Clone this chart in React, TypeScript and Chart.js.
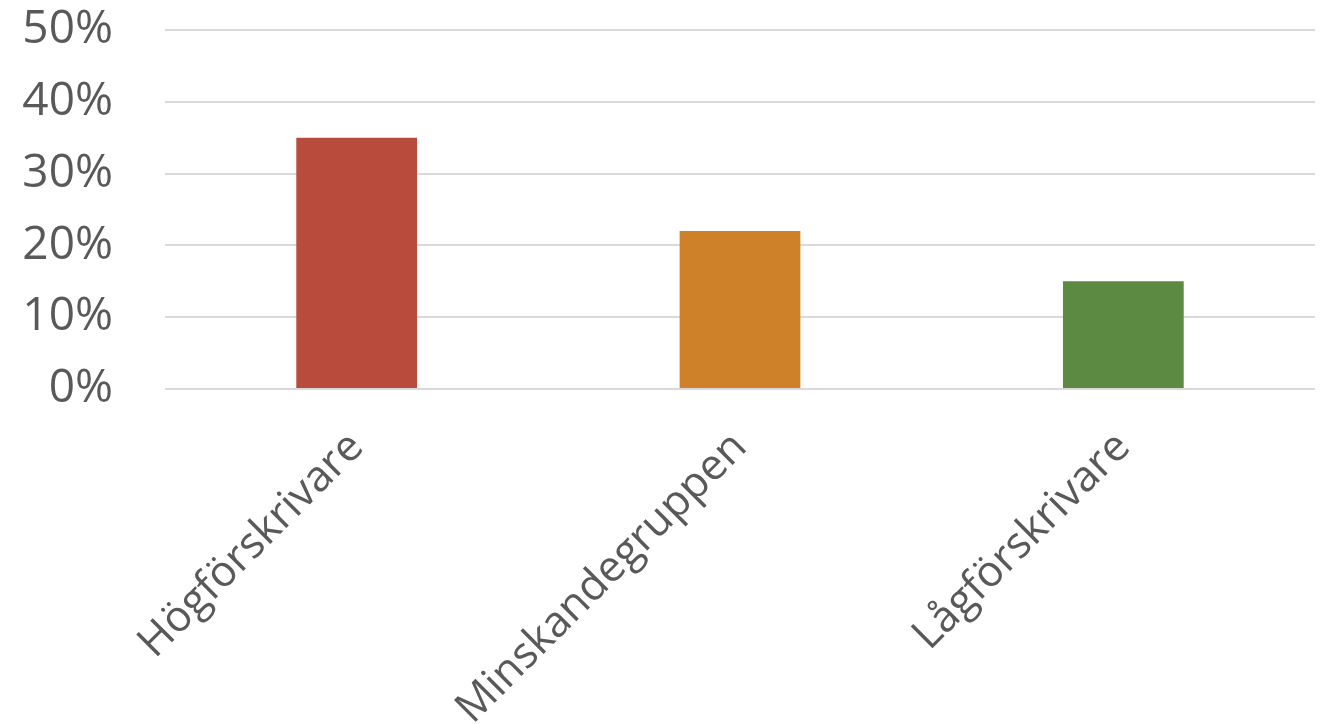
import React, { useEffect, useRef } from "react";
import { Chart, registerables } from "chart.js";

Chart.register(...registerables);

const categories = ["Högförskrivare", "Minskandegruppen", "Lågförskrivare"];
const values = [35, 22, 15];
const barColors = ["#B94B3D", "#CE8128", "#5D8A42"];
const yTicks = [0, 10, 20, 30, 40, 50];

export default function App() {
  const ref = useRef<HTMLCanvasElement | null>(null);
  useEffect(() => {
    if (!ref.current) return;
    const chart = new Chart(ref.current, {
      type: "bar",
      data: {
        labels: categories,
        datasets: [
          {
            data: values,
            backgroundColor: barColors,
            barPercentage: 0.63,
            categoryPercentage: 0.5,
          },
        ],
      },
      options: {
        animation: false,
        responsive: true,
        maintainAspectRatio: false,
        layout: { padding: { top: 30, right: 15, left: 0, bottom: 0 } },
        plugins: { legend: { display: false }, tooltip: { enabled: false } },
        scales: {
          x: {
            grid: { display: false, drawTicks: false },
            border: { display: false },
            ticks: {
              minRotation: 45,
              maxRotation: 45,
              color: "#595959",
              padding: 33,
              font: { family: "'Open Sans'", size: 43 },
            },
            afterFit: (scale: any) => {
              scale.height = 335;
              scale.paddingTop = 0;
              scale.paddingBottom = 0;
            },
          },
          y: {
            min: 0,
            max: 50,
            afterBuildTicks: (scale: any) => {
              scale.ticks = yTicks.map((v) => ({ value: v }));
            },
            grid: { color: "#D9D9D9", lineWidth: 2, drawTicks: false },
            border: { display: false },
            ticks: {
              color: "#595959",
              padding: 52,
              font: { family: "'Open Sans'", size: 46 },
              callback: (v: any) => v + "%",
            },
            afterFit: (scale: any) => {
              scale.width = 165;
              scale.paddingTop = 0;
              scale.paddingBottom = 0;
            },
          },
        },
      },
    });
    return () => chart.destroy();
  }, []);
  return (
    <div style={{ position: "fixed", left: 0, top: 0, width: 1330, height: 724, background: "#fff" }}>
      <canvas ref={ref} />
    </div>
  );
}
